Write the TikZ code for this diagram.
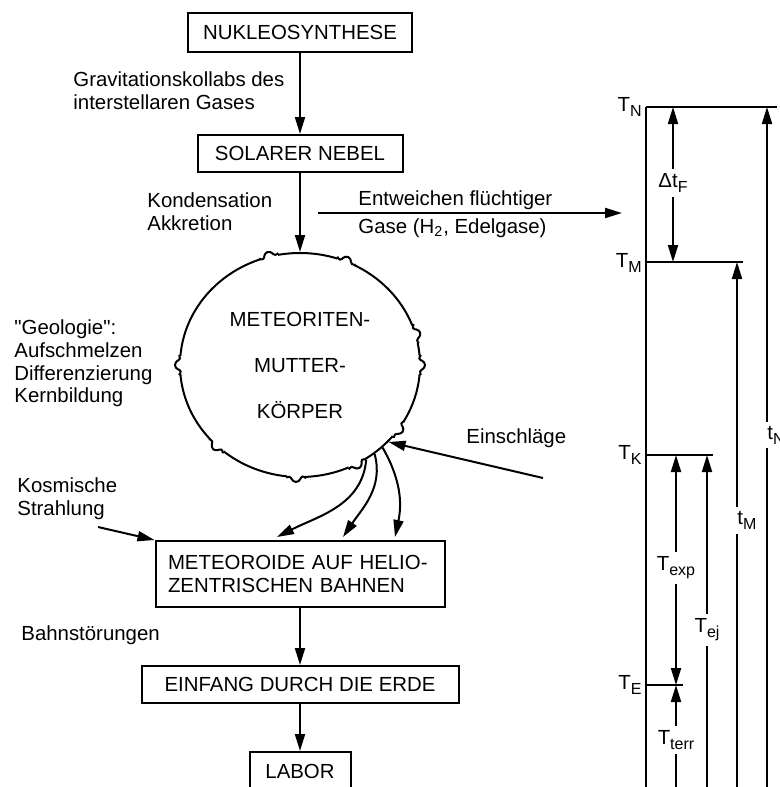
\documentclass[tikz,border=0pt]{standalone}
\usepackage{fontspec}
\setmainfont{Liberation Sans}[Ligatures=TeXOff]
\usetikzlibrary{arrows.meta,shapes.geometric}
\newcommand{\tsub}[1]{\raisebox{-2.5pt}{\fontsize{8pt}{8pt}\selectfont #1}}
\tikzset{
  arr/.style={-{Triangle[length=8.5pt,width=5pt]}, line width=1pt},
  box/.style={draw, line width=1pt, inner sep=0pt},
  txt/.style={anchor=west, inner sep=0pt, align=left},
  tlab/.style={inner sep=2pt},
  tlin/.style={line width=1pt},
}

\begin{document}
\begin{tikzpicture}[x=0.5pt, y=-0.5pt, every node/.style={font=\fontsize{10.2pt}{11.3pt}\selectfont}]
  \path[use as bounding box] (0,0) rectangle (780,787);
  \clip (0,0) rectangle (780,787);

  % main column
  \node[box, minimum width=112pt, minimum height=19.5pt] (nuk) at (300,32.5) {NUKLEOSYNTHESE};
  \node[box, minimum width=102.5pt, minimum height=18.5pt, below of = nuk, node distance=60.5pt] (sol) {SOLARER NEBEL};
  \node[draw, ellipse, line width=1pt, minimum width=120pt, minimum height=112pt, align=center,
        below of = sol, node distance=105.75pt] (mk) {METEORITEN-\\[11.7pt]MUTTER-\\[11.7pt]KÖRPER};
  \node[box, inner xsep=6.25pt, text width=132pt, minimum height=33pt, align=left,
        below of = mk, node distance=104.5pt] (mb) {METEOROIDE AUF HELIO-\\ZENTRISCHEN BAHNEN};
  \node[box, minimum width=158.5pt, minimum height=18.5pt, below of = mb, node distance=55.25pt] (ein) {EINFANG DURCH DIE ERDE};
  \node[box, minimum width=50.5pt, minimum height=19pt, below of = ein, node distance=43.25pt] (lab) {LABOR};

  % bumps on the parent body
  \foreach \a in {0,15,66,106,180,224,268,300,327}
  {
    \begin{scope}[shift={(mk.\a)}, rotate=\a]
      \draw[white, line width=3pt] (0,-9) -- (0,9);
      \draw[line width=1pt, rounded corners=1.5pt] (0,-10) -- (-3,-6) -- (4,-3) -- (4,3) -- (-2,6) -- (0,10);
    \end{scope}
  }

  % side texts
  \node[txt] (grav) at (73,91) {Gravitationskollabs des\\interstellaren Gases};
  \node[txt] (kond) at (147,211.5) {Kondensation\\Akkretion};
  \node[txt] (entw) at (358,200) {Entweichen flüchtiger};
  \node[txt] (gase) at (358,228) {Gase (H\textsubscript{2}, Edelgase)};
  \node[txt] (geo) at (14,363.5) {"Geologie":\\Aufschmelzen\\Differenzierung\\Kernbildung};
  \node[txt] (einsch) at (466,438) {Einschläge};
  \node[txt] (kosm) at (17,498.5) {Kosmische\\Strahlung};
  \node[txt] (bahn) at (21,635) {Bahnstörungen};

  \coordinate (ew1) at (318,213);
  \coordinate (ew2) at (622,213);
  \coordinate (es) at (543,478);
  \coordinate (ks) at (98,527);
  \coordinate (m1) at (277,537);
  \coordinate (m2) at (343,537);
  \coordinate (m3) at (395,537);

  \draw[arr] (nuk) -- (sol);
  \draw[arr] (sol) -- (mk);
  \draw[arr] (mb) -- (ein);
  \draw[arr] (ein) -- (lab);
  \draw[arr] (ew1) -- (ew2);
  \draw[arr] (es) -- (mk.-41);
  \draw[arr] (ks) -- (mb.north west);
  \draw[arr] (mk.-55) to[out=-95, in=27] (m1);
  \draw[arr] (mk.-50) to[out=-75, in=56] (m2);
  \draw[arr] (mk.-45) to[out=-60, in=78] (m3);

  % time axis
  \coordinate (TN) at (646,107);
  \coordinate (TM) at (646,262);
  \coordinate (TK) at (646,455);
  \coordinate (TE) at (646,685);
  \coordinate (bot) at (646,800);
  \coordinate (TNr) at (777,107);
  \coordinate (TMr) at (743,262);
  \coordinate (TKr) at (713,455);
  \coordinate (TEr) at (683,685);
  \draw[tlin] (TN) -- (bot);
  \draw[tlin] (TN) -- (TNr);
  \draw[tlin] (TM) -- (TMr);
  \draw[tlin] (TK) -- (TKr);
  \draw[tlin] (TE) -- (TEr);

  \node[anchor=base east, inner sep=0pt] (lN) at (642,111) {T\tsub{N}};
  \node[anchor=base east, inner sep=0pt] (lM) at (642,267) {T\tsub{M}};
  \node[anchor=base east, inner sep=0pt] (lK) at (642,459) {T\tsub{K}};
  \node[anchor=base east, inner sep=0pt] (lE) at (642,689) {T\tsub{E}};

  \coordinate (xF) at (673,107);
  \coordinate (xN) at (767,107);
  \coordinate (xM) at (737,262);
  \coordinate (xexp) at (676,455);
  \coordinate (xej) at (707,455);

  \node[tlab] (dtF) at (673,183) {Δt\tsub{F}};
  \draw[arr] (dtF) -- (xF);
  \draw[arr] (dtF) -- (dtF |- TM);

  \node[tlab, anchor=west] (tN) at (763,435) {t\tsub{N}};
  \draw[arr] (xN |- tN.north) -- (xN);
  \draw[tlin] (xN |- tN.south) -- (xN |- bot);

  \node[tlab, anchor=west] (tM) at (733,520) {t\tsub{M}};
  \draw[arr] (xM |- tM.north) -- (xM);
  \draw[tlin] (xM |- tM.south) -- (xM |- bot);

  \node[tlab] (Texp) at (676,568) {T\tsub{exp}};
  \draw[arr] (Texp) -- (xexp);
  \draw[arr] (Texp) -- (Texp |- TE);

  \node[tlab] (Tterr) at (676,740) {T\tsub{terr}};
  \draw[arr] (Tterr) -- (Tterr |- TE);
  \draw[tlin] (Tterr) -- (Tterr |- bot);

  \node[tlab] (Tej) at (707,630) {T\tsub{ej}};
  \draw[arr] (Tej) -- (xej);
  \draw[tlin] (Tej) -- (Tej |- bot);
\end{tikzpicture}
\end{document}
